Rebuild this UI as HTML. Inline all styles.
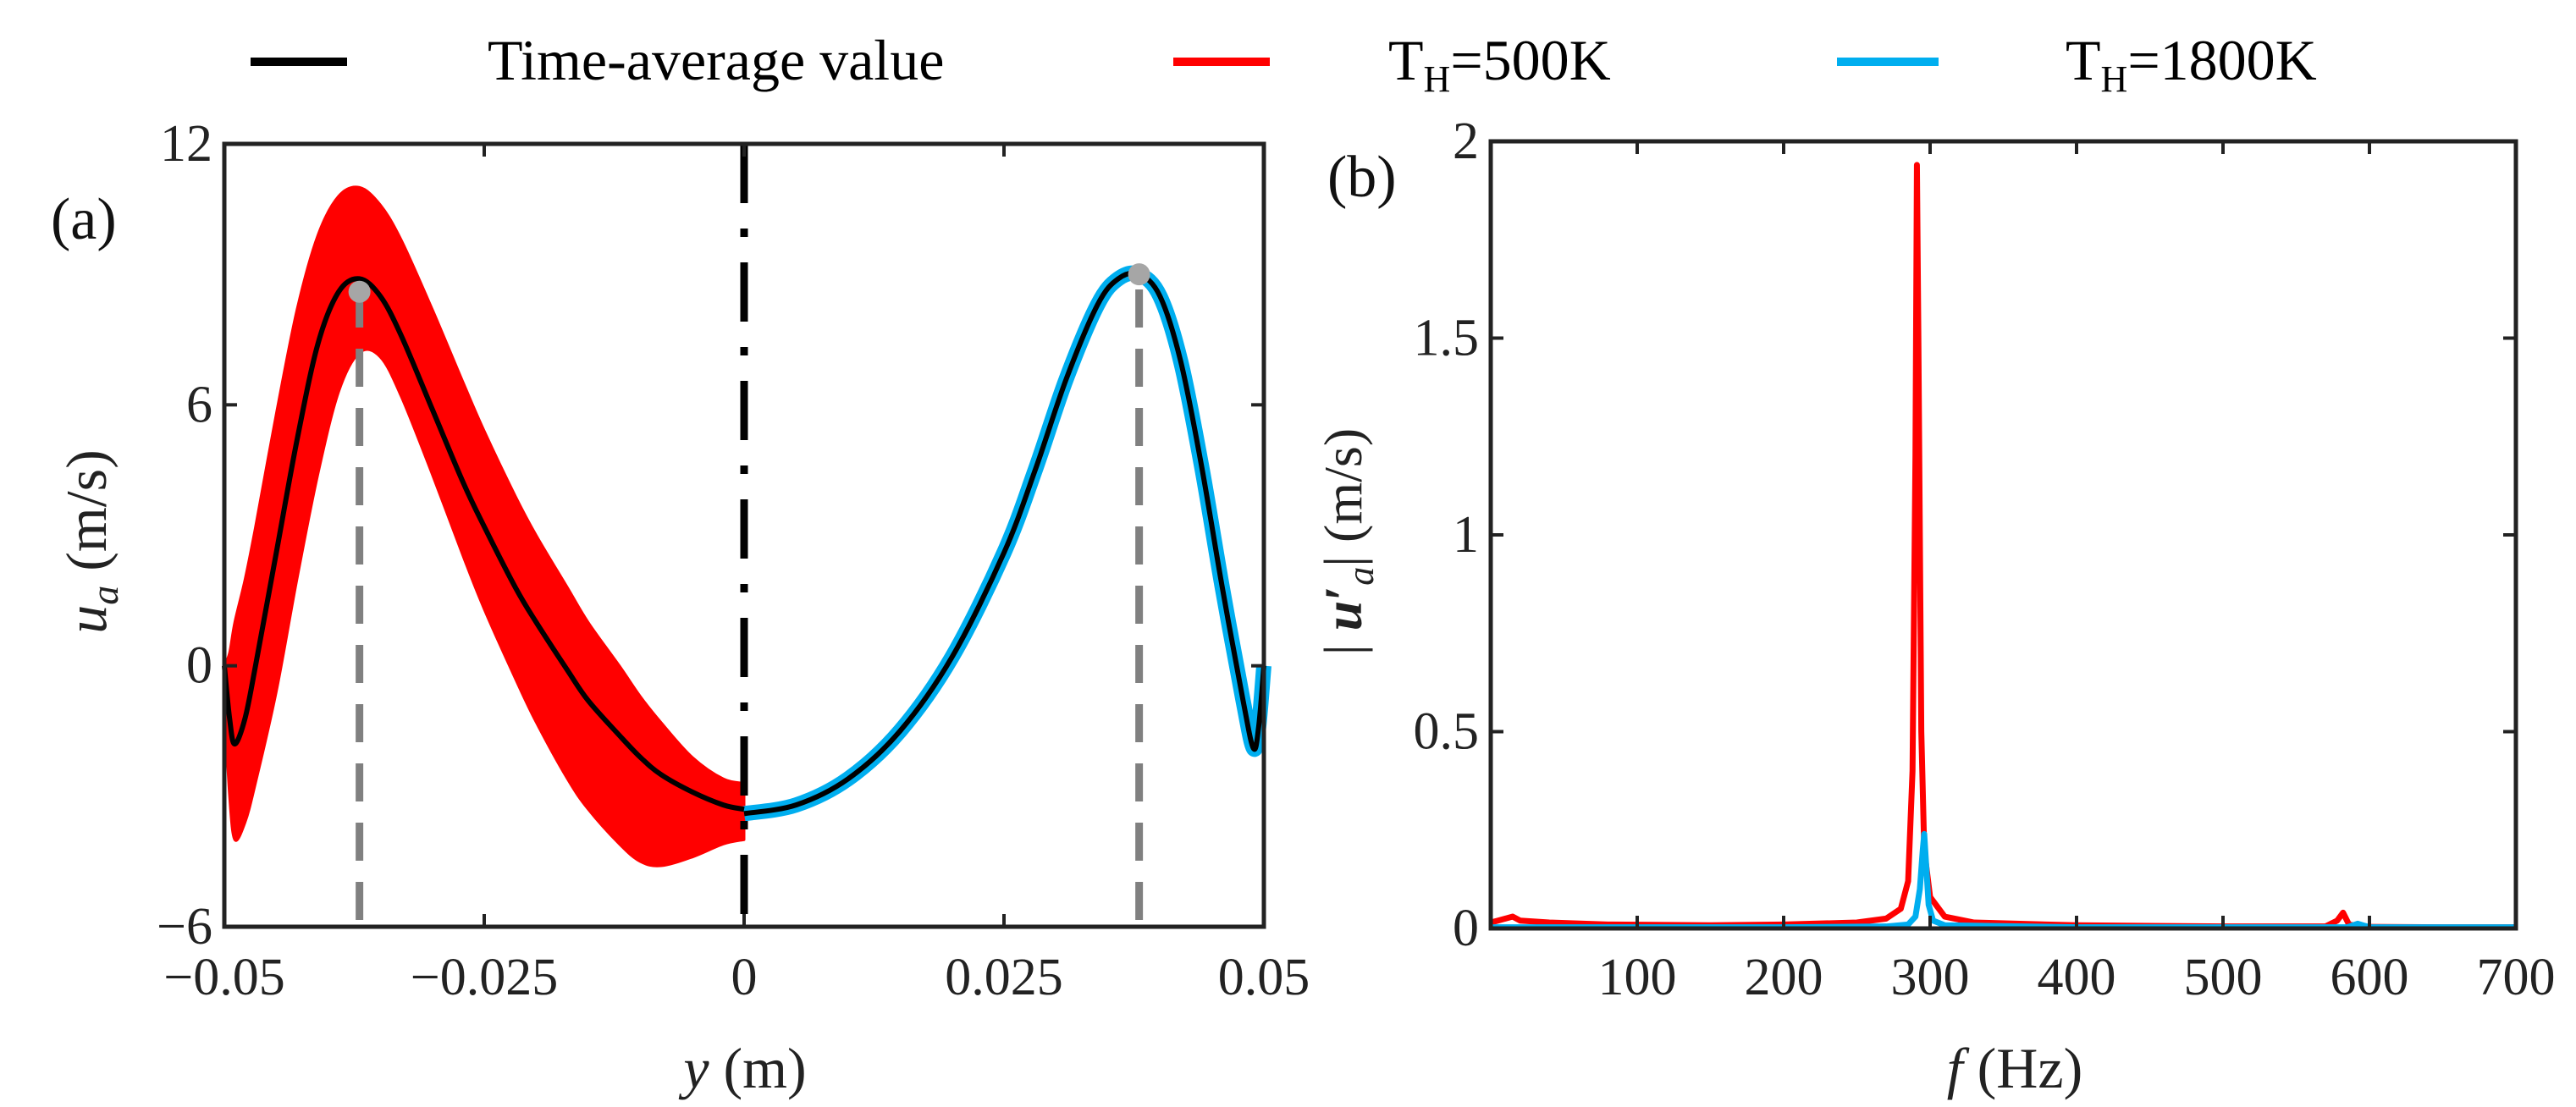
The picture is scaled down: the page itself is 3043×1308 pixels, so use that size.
<!DOCTYPE html>
<html><head><meta charset="utf-8"><style>
body{margin:0;background:#fff}
svg,svg text{font-family:"Liberation Serif","Times New Roman",serif}
</style></head><body>
<svg id="c" width="3043" height="1303" viewBox="0 0 3043 1303" xmlns="http://www.w3.org/2000/svg" font-family="Liberation Serif, serif">
<g>
<line x1="296" y1="73" x2="410" y2="73" stroke="#000" stroke-width="10"/>
<text x="576" y="94" font-size="68" font-family="Liberation Serif, serif">Time-average value</text>
<line x1="1386" y1="73" x2="1500" y2="73" stroke="#f00" stroke-width="10"/>
<text x="1640" y="94" font-size="68" font-family="Liberation Serif, serif">T<tspan font-size="44" dy="14">H</tspan><tspan dy="-14">=500K</tspan></text>
<line x1="2170" y1="73" x2="2290" y2="73" stroke="#00aeef" stroke-width="10"/>
<text x="2440" y="94" font-size="68" font-family="Liberation Serif, serif">T<tspan font-size="44" dy="14">H</tspan><tspan dy="-14">=1800K</tspan></text>
</g>
<g id="pa" font-family="Liberation Serif, serif"></g>
<g id="pb" font-family="Liberation Serif, serif"></g>
</svg>
<script>
// Panel (a) data
const yPos = [-0.05,-0.0495,-0.049,-0.048,-0.047,-0.045,-0.043,-0.041,-0.039,-0.037,-0.035,-0.033,-0.03,-0.027,-0.025,-0.022,-0.02,-0.017,-0.015,-0.012,-0.01,-0.008,-0.005,-0.002,0];
const meanLeft = [0,-1.2,-1.8,-1.2,0.0,2.6,5.2,7.4,8.6,8.9,8.5,7.6,5.9,4.2,3.2,1.8,1.0,-0.1,-0.8,-1.6,-2.1,-2.5,-2.9,-3.2,-3.3];
const upperLeft = [0,0.3,1.0,2.0,3.2,5.8,8.2,9.9,10.8,11.0,10.6,9.8,8.2,6.5,5.4,3.9,3.0,1.8,1.0,0.0,-0.7,-1.3,-2.1,-2.6,-2.7];
const lowerLeft = [-0.8,-3.0,-4.0,-3.6,-2.7,-0.6,2.0,4.4,6.3,7.2,7.1,6.2,4.4,2.5,1.3,-0.3,-1.3,-2.6,-3.3,-4.1,-4.5,-4.6,-4.4,-4.1,-4.0];
const yPosR = [0,0.005,0.01,0.015,0.02,0.025,0.028,0.031,0.034,0.036,0.038,0.04,0.042,0.044,0.046,0.048,0.049,0.0495,0.05];
const meanRight = [-3.4,-3.2,-2.6,-1.5,0.2,2.6,4.5,6.6,8.3,8.9,9.0,8.5,7.0,4.6,1.8,-0.8,-1.9,-1.4,0];
const yTicksA = [-6,0,6,12];
const xTicksA = [-0.05,-0.025,0,0.025,0.05];
const xTickLabelsA = ["\u22120.05","\u22120.025","0","0.025","0.05"];
const peakY = [-0.037,0.038];
const peakV = [8.6,9.0];
// Panel (b) data
const freqR = [0,5,10,15,20,40,80,150,200,250,270,280,285,288,290,291,292,294,296,300,310,330,400,500,570,578,582,586,595,650,700];
const ampR = [0.015,0.02,0.025,0.03,0.02,0.015,0.01,0.008,0.01,0.015,0.025,0.05,0.12,0.4,1.2,1.94,1.5,0.5,0.2,0.08,0.03,0.015,0.008,0.005,0.005,0.02,0.04,0.01,0.004,0.003,0.003];
const freqB = [0,100,200,270,285,290,293,295,296,297,299,302,310,400,585,592,600,700];
const ampB = [0.003,0.003,0.003,0.005,0.01,0.03,0.1,0.2,0.24,0.18,0.06,0.02,0.008,0.003,0.003,0.012,0.003,0.003];
const yTicksB = [0,0.5,1,1.5,2];
const yTickLabelsB = ["0","0.5","1","1.5","2"];
const xTicksB = [100,200,300,400,500,600,700];

const NS="http://www.w3.org/2000/svg";
function mk(parent,tag,attrs,text){const e=document.createElementNS(NS,tag);for(const k in attrs)e.setAttribute(k,attrs[k]);if(text!==undefined)e.textContent=text;parent.appendChild(e);return e;}
// smooth path through points (Catmull-Rom)
function smooth(pts,move){
 let d=(move?'M':'L')+pts[0][0]+','+pts[0][1];
 for(let i=0;i<pts.length-1;i++){
  const p0=pts[Math.max(0,i-1)],p1=pts[i],p2=pts[i+1],p3=pts[Math.min(pts.length-1,i+2)];
  const c1=[p1[0]+(p2[0]-p0[0])/6,p1[1]+(p2[1]-p0[1])/6];
  const c2=[p2[0]-(p3[0]-p1[0])/6,p2[1]-(p3[1]-p1[1])/6];
  d+='C'+c1[0]+','+c1[1]+' '+c2[0]+','+c2[1]+' '+p2[0]+','+p2[1];
 }
 return d;
}

// axes A
const AL=265,AR=1493,AT=170,AB=1095;
const ax=v=>AL+(v+0.05)/0.1*(AR-AL);
const ay=v=>AB-(v+6)/18*(AB-AT);
const pa=document.getElementById('pa');
const up=yPos.map((y,i)=>[ax(y),ay(upperLeft[i])]);
const lo=yPos.map((y,i)=>[ax(y),ay(lowerLeft[i])]).reverse();
let e=mk(pa,'path',{d:smooth(up,true)+smooth(lo,false)+'Z',fill:'#f00',stroke:'#f00','stroke-width':3,'stroke-linejoin':'round'});


const dr=smooth(yPosR.map((y,i)=>[ax(y),ay(meanRight[i])]),true);
e=mk(pa,'path',{d:dr,fill:'none',stroke:'#00aeef','stroke-width':18,'stroke-linejoin':'round'});


const dl=smooth(yPos.map((y,i)=>[ax(y),ay(meanLeft[i])]),true);
e=mk(pa,'path',{d:dl,fill:'none',stroke:'#000','stroke-width':6,'stroke-linejoin':'round'});


e=mk(pa,'path',{d:dr,fill:'none',stroke:'#000','stroke-width':6,'stroke-linejoin':'round'});


e=mk(pa,'line',{x1:ax(0),y1:AT,x2:ax(0),y2:AB,stroke:'#000','stroke-width':9,'stroke-dasharray':'70,30,10,30'});


peakY.forEach((p,i)=>{
 const l=mk(pa,'line',{x1:ax(p),y1:AB-8,x2:ax(p),y2:ay(peakV[i]),stroke:'#808080','stroke-width':9,'stroke-dasharray':'45,25'});
 
 
 const c=mk(pa,'circle',{cx:ax(p),cy:ay(peakV[i]),r:13,fill:'#a6a6a6'});
 
 
});
e=mk(pa,'rect',{x:AL,y:AT,width:AR-AL,height:AB-AT,fill:'none',stroke:'#222','stroke-width':5});


yTicksA.forEach(t=>{
 const y=ay(t);
 mk(pa,'line',{x1:AL,y1:y,x2:AL+15,y2:y,stroke:'#222','stroke-width':4});
 mk(pa,'line',{x1:AR,y1:y,x2:AR-15,y2:y,stroke:'#222','stroke-width':4});
 const tx=mk(pa,'text',{x:AL-14,y:y+20,'font-size':62,'text-anchor':'end',fill:'#222'},t<0?'\u2212'+(-t):String(t));
 
 
});
xTicksA.forEach((t,i)=>{
 const x=ax(t);
 mk(pa,'line',{x1:x,y1:AB,x2:x,y2:AB-15,stroke:'#222','stroke-width':4});
 mk(pa,'line',{x1:x,y1:AT,x2:x,y2:AT+15,stroke:'#222','stroke-width':4});
 const tx=mk(pa,'text',{x:x,y:1175,'font-size':62,'text-anchor':'middle',fill:'#222'},xTickLabelsA[i]);
 
 
});
e=mk(pa,'text',{x:60,y:282,'font-size':70,fill:'#111'},'(a)');


e=mk(pa,'text',{x:880,y:1285,'font-size':68,'text-anchor':'middle',fill:'#222'});
e.innerHTML='<tspan font-style="italic">y</tspan> (m)';


e=mk(pa,'text',{transform:'translate(125,640) rotate(-90)','font-size':68,'text-anchor':'middle',fill:'#222'});
e.innerHTML='<tspan font-style="italic">u</tspan><tspan font-style="italic" font-size="46" dy="14">a</tspan><tspan dy="-14"> (m/s)</tspan>';



// axes B
const BL=1761,BR=2972,BT=167,BB=1097;
const bx=f=>BL+f/700*(BR-BL);
const by=v=>BB-v/2*(BB-BT);
const pb=document.getElementById('pb');
let d1='';freqR.forEach((f,i)=>{d1+=(i?'L':'M')+bx(f)+','+by(ampR[i]);});
e=mk(pb,'path',{d:d1,fill:'none',stroke:'#f00','stroke-width':7,'stroke-linejoin':'round'});


let d2='';freqB.forEach((f,i)=>{d2+=(i?'L':'M')+bx(f)+','+by(ampB[i]);});
e=mk(pb,'path',{d:d2,fill:'none',stroke:'#00aeef','stroke-width':7,'stroke-linejoin':'round'});


e=mk(pb,'rect',{x:BL,y:BT,width:BR-BL,height:BB-BT,fill:'none',stroke:'#222','stroke-width':5});


yTicksB.forEach((t,i)=>{
 const y=by(t);
 mk(pb,'line',{x1:BL,y1:y,x2:BL+15,y2:y,stroke:'#222','stroke-width':4});
 mk(pb,'line',{x1:BR,y1:y,x2:BR-15,y2:y,stroke:'#222','stroke-width':4});
 const tx=mk(pb,'text',{x:BL-14,y:y+20,'font-size':62,'text-anchor':'end',fill:'#222'},yTickLabelsB[i]);
 
 
});
xTicksB.forEach(t=>{
 const x=bx(t);
 mk(pb,'line',{x1:x,y1:BB,x2:x,y2:BB-15,stroke:'#222','stroke-width':4});
 mk(pb,'line',{x1:x,y1:BT,x2:x,y2:BT+15,stroke:'#222','stroke-width':4});
 const tx=mk(pb,'text',{x:x,y:1175,'font-size':62,'text-anchor':'middle',fill:'#222'},String(t));
 
 
});
e=mk(pb,'text',{x:1568,y:232,'font-size':70,fill:'#111'},'(b)');


e=mk(pb,'text',{x:2380,y:1285,'font-size':68,'text-anchor':'middle',fill:'#222'});
e.innerHTML='<tspan font-style="italic">f</tspan> (Hz)';


e=mk(pb,'text',{transform:'translate(1608,640) rotate(-90)','font-size':64,'text-anchor':'middle',fill:'#222'});
e.innerHTML='| <tspan font-style="italic" font-weight="bold">u</tspan><tspan font-weight="bold">\u2032</tspan><tspan font-style="italic" font-size="44" dy="14">a</tspan><tspan dy="-14">| (m/s)</tspan>';


</script>
</body></html>
